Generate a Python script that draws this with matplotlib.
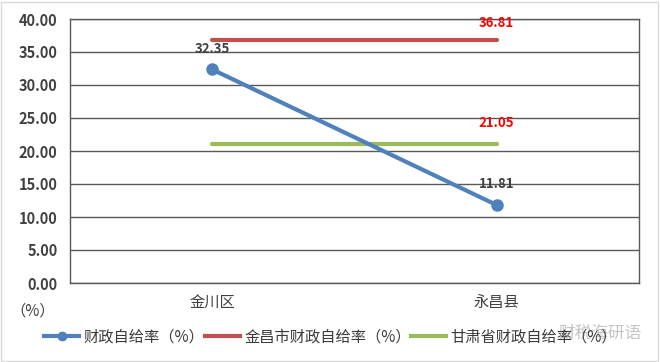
import matplotlib
matplotlib.use("Agg")
import matplotlib.pyplot as plt
from matplotlib.lines import Line2D
from matplotlib.patches import Rectangle

plt.rcParams['font.family'] = ['Noto Sans CJK SC', 'DejaVu Sans']

categories = ['金川区', '永昌县']
county_rate = [32.35, 11.81]
city_rate = [36.81, 36.81]
province_rate = [21.05, 21.05]
series_names = ['财政自给率（%）', '金昌市财政自给率（%）', '甘肃省财政自给率（%）']
yticks = [0, 5, 10, 15, 20, 25, 30, 35, 40]

blue = '#4F81BD'
red = '#C0504D'
green = '#9BBB59'
txt = '#404040'

fig = plt.figure(figsize=(6.6, 3.62), dpi=100)
W, H = 660, 362
ax = fig.add_axes([70 / W, 1 - 283 / H, (639 - 70) / W, (283 - 19) / H])

x = list(range(len(categories)))
ax.plot(x, city_rate, color=red, lw=3, solid_capstyle='round', zorder=3)
ax.plot(x, province_rate, color=green, lw=3, solid_capstyle='round', zorder=3)
ax.plot(x, county_rate, color=blue, lw=3, marker='o', ms=8, solid_capstyle='round', zorder=4)

ax.set_xlim(-0.5, 1.5)
ax.set_ylim(0, 40)
ax.set_yticks(yticks)
ax.set_yticklabels([f'{v:.2f}' for v in yticks], fontsize=10.5, color=txt, fontweight='bold')
ax.set_xticks(x)
ax.set_xticklabels(categories, fontsize=11, color=txt)
ax.tick_params(length=0, pad=8)
ax.tick_params(axis='y', pad=9)
ax.grid(axis='y', color='#595959', lw=1)
ax.set_axisbelow(True)
for s in ax.spines.values():
    s.set_color('#595959')
    s.set_linewidth(1)

for xi, v in zip(x, county_rate):
    ax.annotate(f'{v:.2f}', (xi, v), xytext=(0, 10), textcoords='offset points',
                ha='center', va='bottom', fontsize=9.5, color=txt, fontweight='bold')
ax.annotate(f'{city_rate[-1]:.2f}', (x[-1], city_rate[-1]), xytext=(0, 7), textcoords='offset points',
            ha='center', va='bottom', fontsize=9.5, color='red', fontweight='bold', annotation_clip=False)
ax.annotate(f'{province_rate[-1]:.2f}', (x[-1], province_rate[-1]), xytext=(0, 10), textcoords='offset points',
            ha='center', va='bottom', fontsize=9.5, color='red', fontweight='bold')

fig.text(33 / W, 1 - 311 / H, '（%）', ha='center', va='center', fontsize=11, color=txt)

handles = [
    Line2D([], [], color=blue, lw=3, marker='o', ms=6),
    Line2D([], [], color=red, lw=3),
    Line2D([], [], color=green, lw=3),
]
fig.legend(handles, series_names, loc='center left', bbox_to_anchor=(44 / W, 1 - 337 / H), ncol=3,
           frameon=False, fontsize=11, handlelength=2.3, columnspacing=0.0, handletextpad=0.3,
           labelcolor='#3A3A3A', borderpad=0, borderaxespad=0)

fig.text(600 / W, 1 - 333 / H, '财税海研语', ha='center', va='center', fontsize=12,
         color='#B0B0B0', alpha=0.75)

fig.patches.append(Rectangle((1 / W, 1 / H), 1 - 3 / W, 1 - 3 / H, transform=fig.transFigure,
                             fill=False, edgecolor='#D9D9D9', lw=1))

fig.savefig('out.png', dpi=100)
